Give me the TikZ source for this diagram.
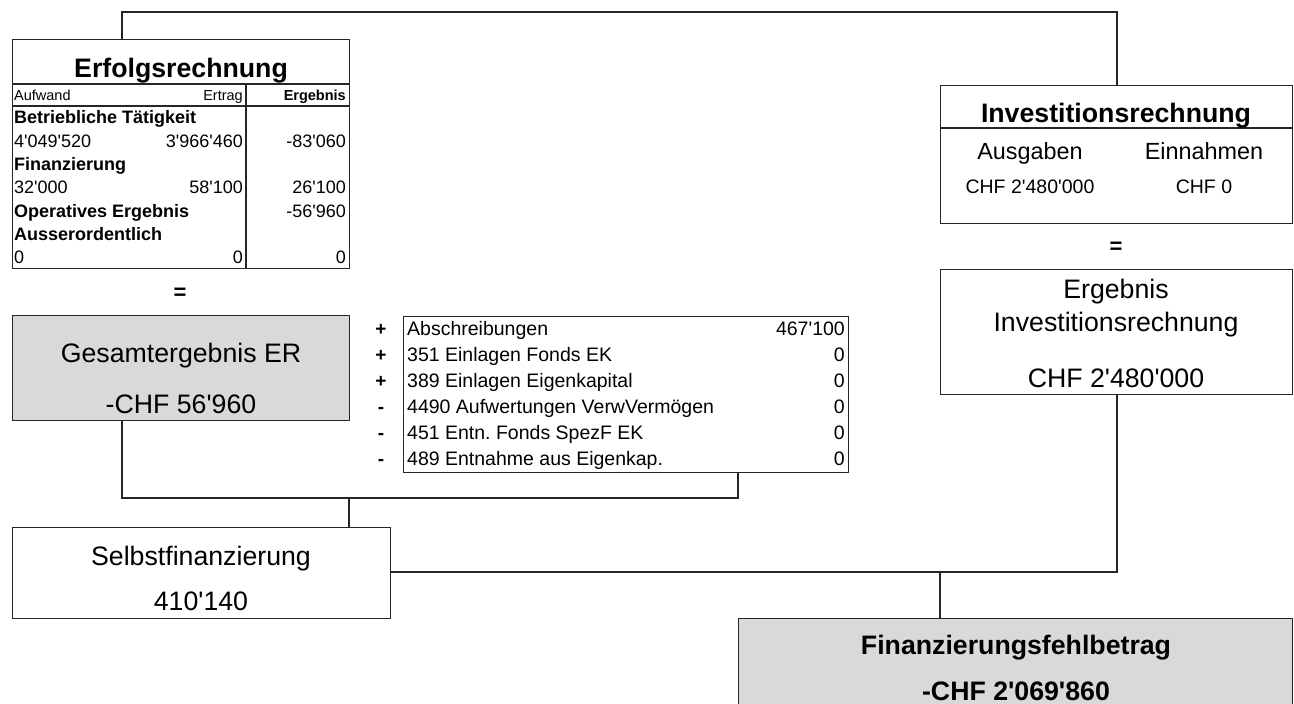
\documentclass[tikz,border=0pt]{standalone}
\usepackage{fontspec}
\setmainfont{Liberation Sans}
\newcommand{\ap}{\textquotesingle}
\begin{document}
\frenchspacing
\begin{tikzpicture}[x=1pt,y=-1pt,
  box/.style={draw=black!85, line width=1.1pt, inner sep=0pt, anchor=north west},
  graybox/.style={box, fill=black!15},
  conn/.style={draw=black!85, line width=1.1pt},
  rule/.style={draw=black!85, line width=1.1pt},
  ctxt/.style={inner sep=0pt, anchor=base},
  ltxt/.style={inner sep=0pt, anchor=base west},
  rtxt/.style={inner sep=0pt, anchor=base east},
  big/.style={font=\fontsize{26.7}{30}\selectfont},
  bigb/.style={font=\bfseries\fontsize{26.7}{30}\selectfont},
  mid/.style={font=\fontsize{23.4}{27}\selectfont},
  smallv/.style={font=\fontsize{19.5}{22}\selectfont},
  row/.style={font=\fontsize{18}{20}\selectfont},
  rowb/.style={font=\bfseries\fontsize{18}{20}\selectfont},
  hdr/.style={font=\fontsize{14.5}{16}\selectfont},
  hdrb/.style={font=\bfseries\fontsize{14.5}{16}\selectfont},
  tab/.style={font=\fontsize{19.5}{21}\selectfont},
  sign/.style={font=\bfseries\fontsize{19}{21}\selectfont},
  eq/.style={font=\bfseries\fontsize{22}{24}\selectfont}
]
\useasboundingbox (0,0) rectangle (1294,704);

% ---------- boxes ----------
\node[box, minimum width=337pt, minimum height=229pt] (erf) at (12,39) {};
\node[graybox, minimum width=337pt, minimum height=105pt] (ges) at (12,315) {};
\node[box, minimum width=445pt, minimum height=156pt] (tab) at (403,316) {};
\node[box, minimum width=378pt, minimum height=91pt] (selbst) at (12,527) {};
\node[box, minimum width=352pt, minimum height=138pt] (inv) at (940,85) {};
\node[box, minimum width=352pt, minimum height=125pt] (erg) at (940,269) {};
\node[graybox, minimum width=554pt, minimum height=110pt] (fin) at (738,618) {};

% ---------- Erfolgsrechnung table ----------
\draw[rule] (12,84) -- (349,84);
\draw[rule] (12,106) -- (349,106);
\draw[rule] (246,84) -- (246,268);
\node[ctxt, bigb] (erft) at (181,77) {Erfolgsrechnung};
\node[ltxt, hdr] (h1) at (14,100) {Aufwand};
\node[rtxt, hdr] (h2) at (243,100) {Ertrag};
\node[rtxt, hdrb] (h3) at (346,100) {Ergebnis};
\node[ltxt, rowb] (r1) at (14,123) {Betriebliche Tätigkeit};
\node[ltxt, row] (r2a) at (14,147) {4\ap049\ap520};
\node[rtxt, row] (r2b) at (243,147) {3\ap966\ap460};
\node[rtxt, row] (r2c) at (346,147) {-83\ap060};
\node[ltxt, rowb] (r3) at (14,170) {Finanzierung};
\node[ltxt, row] (r4a) at (14,193) {32\ap000};
\node[rtxt, row] (r4b) at (243,193) {58\ap100};
\node[rtxt, row] (r4c) at (346,193) {26\ap100};
\node[ltxt, rowb] (r5) at (14,217) {Operatives Ergebnis};
\node[rtxt, row] (r5c) at (346,217) {-56\ap960};
\node[ltxt, rowb] (r6) at (14,240) {Ausserordentlich};
\node[ltxt, row] (r7a) at (14,263) {0};
\node[rtxt, row] (r7b) at (243,263) {0};
\node[rtxt, row] (r7c) at (346,263) {0};

\node[ctxt, eq] (eq1) at (180,299) {=};

% ---------- Gesamtergebnis ----------
\node[ctxt, big] (g1) at (181,362) {Gesamtergebnis ER};
\node[ctxt, big] (g2) at (181,413) {-CHF 56\ap960};

% ---------- adjustments table ----------
\node[ctxt, sign] (s1) at (381,335) {+};
\node[ctxt, sign] (s2) at (381,361) {+};
\node[ctxt, sign] (s3) at (381,387) {+};
\node[ctxt, sign] (s4) at (381,413) {-};
\node[ctxt, sign] (s5) at (381,439) {-};
\node[ctxt, sign] (s6) at (381,465) {-};
\node[ltxt, tab] (a1) at (407,335) {Abschreibungen};
\node[ltxt, tab] (a2) at (407,361) {351 Einlagen Fonds EK};
\node[ltxt, tab] (a3) at (407,387) {389 Einlagen Eigenkapital};
\node[ltxt, tab] (a4) at (407,413) {4490 Aufwertungen VerwVermögen};
\node[ltxt, tab] (a5) at (407,439) {451 Entn. Fonds SpezF EK};
\node[ltxt, tab] (a6) at (407,465) {489 Entnahme aus Eigenkap.};
\node[rtxt, tab] (v1) at (845,335) {467\ap100};
\node[rtxt, tab] (v2) at (845,361) {0};
\node[rtxt, tab] (v3) at (845,387) {0};
\node[rtxt, tab] (v4) at (845,413) {0};
\node[rtxt, tab] (v5) at (845,439) {0};
\node[rtxt, tab] (v6) at (845,465) {0};

% ---------- Selbstfinanzierung ----------
\node[ctxt, big] (sf1) at (201,565) {Selbstfinanzierung};
\node[ctxt, big] (sf2) at (201,610) {410\ap140};

% ---------- Investitionsrechnung ----------
\draw[rule] (940,128) -- (1292,128);
\node[ctxt, bigb] (invt) at (1116,122) {Investitionsrechnung};
\node[ctxt, mid] (i1) at (1030,159) {Ausgaben};
\node[ctxt, mid] (i2) at (1204,159) {Einnahmen};
\node[ctxt, smallv] (i3) at (1030,193) {CHF 2\ap480\ap000};
\node[ctxt, smallv] (i4) at (1204,193) {CHF 0};

\node[ctxt, eq] (eq2) at (1116,253) {=};

% ---------- Ergebnis Investitionsrechnung ----------
\node[ctxt, big] (e1) at (1116,298) {Ergebnis};
\node[ctxt, big] (e2) at (1116,331) {Investitionsrechnung};
\node[ctxt, big] (e3) at (1116,387) {CHF 2\ap480\ap000};

% ---------- Finanzierungsfehlbetrag ----------
\node[ctxt, bigb] (f1) at (1016,654) {Finanzierungsfehlbetrag};
\node[ctxt, bigb] (f2) at (1016,700) {-CHF 2\ap069\ap860};

% ---------- connectors ----------
\coordinate (topL) at (122,12);
\coordinate (topR) at (1117,12);
\draw[conn] (topL |- erf.north) -- (topL) -- (topR) -- (topR |- inv.north);

\coordinate (jL) at (122,498);
\coordinate (jR) at (738,498);
\draw[conn] (jL |- ges.south) -- (jL) -- (jR) -- (jR |- tab.south);
\coordinate (jM) at (349,498);
\draw[conn] (jM) -- (jM |- selbst.north);

\coordinate (kR) at (1117,572);
\coordinate (kM) at (940,572);
\draw[conn] (selbst.east |- kR) -- (kR) -- (kR |- erg.south);
\draw[conn] (kM) -- (kM |- fin.north);
\end{tikzpicture}
\end{document}
